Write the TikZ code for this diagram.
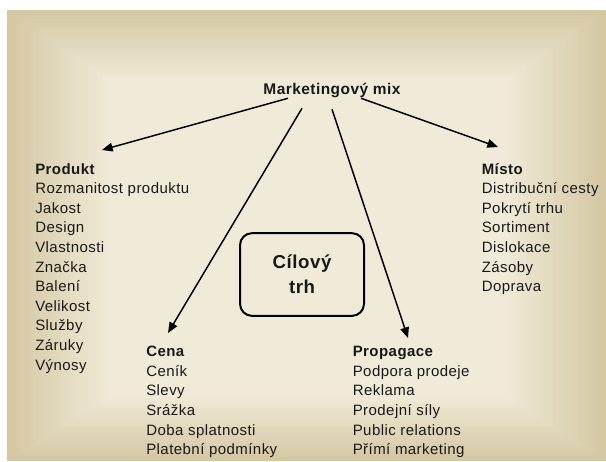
\documentclass[tikz,border=0pt]{standalone}
\usepackage{fontspec}
\setmainfont{Liberation Sans}[LetterSpace=3]
\usetikzlibrary{arrows.meta, positioning}
\definecolor{frameedge}{RGB}{212,199,162}
\definecolor{framecentre}{RGB}{240,235,217}
\definecolor{ink}{RGB}{25,25,25}
\tikzstyle{item} = [inner sep=0pt, text height=10.5pt, text depth=3.8pt, text=ink, font=\fontsize{11.25}{13}\selectfont]
\tikzstyle{heading} = [item, font=\fontsize{11.25}{13}\selectfont\bfseries]
\tikzstyle{title} = [inner sep=0pt, text height=9pt, text depth=3pt, text=ink, font=\fontsize{11.6}{14}\selectfont\bfseries]
\tikzstyle{target} = [draw, line width=1.5pt, rounded corners=9pt, minimum width=93pt, minimum height=62pt, align=center, text=ink, font=\fontsize{14}{18.5}\selectfont\bfseries]
\tikzstyle{link} = [-{Triangle[length=8pt, width=6.5pt]}, line width=1.1pt]

\begin{document}
\begin{tikzpicture}[x=0.75pt, y=-0.75pt]
    \useasboundingbox (0,0) rectangle (606,461);

    % Background.
    \foreach\i in {0,...,23} {
        \pgfmathtruncatemacro\shade{100-\i*100/23}
        \fill [frameedge!\shade!framecentre] (7+\i*4.5, 10+\i*3.125) rectangle (606-\i*4.42, 461-\i*2.875);
    }

    % Title and target.
    \node (mix) [title, anchor=base] at (332,94) {Marketingový mix};
    \node (trh) [target] at (302,274.5) {Cílový\\trh};

    % Groups.
    \node (produkt0) [heading, anchor=base west] at (35,174) {Produkt};
    \foreach\t [count=\i] in {Rozmanitost produktu, Jakost, Design, Vlastnosti, Značka, Balení, Velikost, Služby, Záruky, Výnosy} {
        \pgfmathtruncatemacro\j{\i-1}
        \node (produkt\i) [item, below=0pt of produkt\j.south west, anchor=north west] {\t};
    }

    \node (cena0) [heading, anchor=base west] at (146,356.7) {Cena};
    \foreach\t [count=\i] in {Ceník, Slevy, Srážka, Doba splatnosti, Platební podmínky} {
        \pgfmathtruncatemacro\j{\i-1}
        \node (cena\i) [item, below=0pt of cena\j.south west, anchor=north west] {\t};
    }

    \node (propagace0) [heading, anchor=base west] at (352.5,356.7) {Propagace};
    \foreach\t [count=\i] in {Podpora prodeje, Reklama, Prodejní síly, Public relations, Přímí marketing} {
        \pgfmathtruncatemacro\j{\i-1}
        \node (propagace\i) [item, below=0pt of propagace\j.south west, anchor=north west] {\t};
    }

    \node (misto0) [heading, anchor=base west] at (481.5,174) {Místo};
    \foreach\t [count=\i] in {Distribuční cesty, Pokrytí trhu, Sortiment, Dislokace, Zásoby, Doprava} {
        \pgfmathtruncatemacro\j{\i-1}
        \node (misto\i) [item, below=0pt of misto\j.south west, anchor=north west] {\t};
    }

    % Arrows.
    \coordinate (toprodukt) at (102,150);
    \coordinate (tocena) at (168,333);
    \coordinate (topropagace) at (408,338);
    \coordinate (tomisto) at (498,147);

    \draw [link] ([shift={(-44,0)}]mix.south) -- (toprodukt);
    \draw [link] ([shift={(-30,10)}]mix.south) -- (tocena);
    \draw [link] ([shift={(0,11)}]mix.south) -- (topropagace);
    \draw [link] ([shift={(29,0)}]mix.south) -- (tomisto);
\end{tikzpicture}
\end{document}
